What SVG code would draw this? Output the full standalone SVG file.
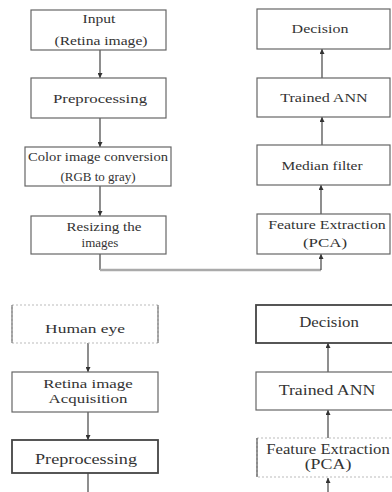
<svg xmlns="http://www.w3.org/2000/svg" width="392" height="492" viewBox="0 0 392 492">
<defs>
<style>
.box{fill:#fff;stroke:#666;stroke-width:1.2}
.dark{fill:#fff;stroke:#444;stroke-width:1.8}
.faint{fill:#fff;stroke:#bbb;stroke-width:1;stroke-dasharray:2 2}
text{font-family:"Liberation Serif","Times New Roman",Times,serif;fill:#333;text-anchor:middle}
.t{font-size:13px}
.tb{font-size:14px}
.c{fill:none;stroke:#444;stroke-width:1.2}
.h{fill:none;stroke:#aaa;stroke-width:2.5}
</style>
<marker id="ah" viewBox="0 0 6 6" refX="6" refY="3" markerWidth="5" markerHeight="5" orient="auto" markerUnits="userSpaceOnUse">
<path d="M0,0 L6,3 L0,6 Z" fill="#333"/>
</marker>
</defs>
<rect width="392" height="492" fill="#fff"/>

<g id="connectors">
<path class="c" d="M100,50 V78" marker-end="url(#ah)"/>
<path class="c" d="M100,118 V147" marker-end="url(#ah)"/>
<path class="c" d="M100,186 V216" marker-end="url(#ah)"/>
<path class="c" d="M100,254 V270"/>
<path class="h" d="M100,270 H321"/>
<path class="c" d="M321,270 V254" marker-end="url(#ah)"/>
<path class="c" d="M321,214 V185" marker-end="url(#ah)"/>
<path class="c" d="M322,145 V117" marker-end="url(#ah)"/>
<path class="c" d="M322,78 V49" marker-end="url(#ah)"/>
<path class="c" d="M88,343 V372" marker-end="url(#ah)"/>
<path class="c" d="M88,412 V440" marker-end="url(#ah)"/>
<path class="c" d="M88,473 V492"/>
<path class="c" d="M328,372 V343" marker-end="url(#ah)"/>
<path class="c" d="M328,438 V410" marker-end="url(#ah)"/>
<path class="c" d="M328,492 V478" marker-end="url(#ah)"/>
</g>

<g id="input">
<rect class="box" x="31" y="10" width="135" height="40"/>
<text class="t" transform="translate(99,23) scale(1.2,1)">Input</text>
<text class="t" transform="translate(101,45) scale(1.2,1)">(Retina image)</text>
</g>
<g id="preprocessing1">
<rect class="box" x="31" y="78" width="135" height="40"/>
<text class="t" transform="translate(100,103) scale(1.29,1)">Preprocessing</text>
</g>
<g id="color-conversion">
<rect class="box" x="25" y="147" width="146" height="39"/>
<text class="t" transform="translate(98,161) scale(1.12,1)">Color image conversion</text>
<text class="t" transform="translate(98,181) scale(1,1)">(RGB to gray)</text>
</g>
<g id="resizing">
<rect class="box" x="31" y="216" width="135" height="38"/>
<text class="t" transform="translate(104,231) scale(1.16,1)">Resizing the</text>
<text class="t" transform="translate(100,247)">images</text>
</g>

<g id="decision1">
<rect class="box" x="257" y="9" width="133" height="40"/>
<text class="t" transform="translate(320,33) scale(1.23,1)">Decision</text>
</g>
<g id="trained-ann1">
<rect class="box" x="257" y="78" width="133" height="39"/>
<text class="t" transform="translate(324,102) scale(1.24,1)">Trained  ANN</text>
</g>
<g id="median-filter">
<rect class="box" x="257" y="145" width="133" height="40"/>
<text class="t" transform="translate(322,170) scale(1.19,1)">Median filter</text>
</g>
<g id="feature-extraction1">
<rect class="box" x="257" y="214" width="133" height="40"/>
<text class="t" transform="translate(327,229) scale(1.22,1)">Feature Extraction</text>
<text class="t" transform="translate(325,247) scale(1.3,1)">(PCA)</text>
</g>

<g id="human-eye">
<rect class="faint" x="12" y="305" width="146" height="38"/>
<line x1="12" y1="305" x2="12" y2="343" stroke="#777" stroke-width="1.2"/>
<line x1="158" y1="305" x2="158" y2="343" stroke="#777" stroke-width="1.2"/>
<text class="t" transform="translate(85,333) scale(1.34,1)">Human eye</text>
</g>
<g id="retina-acquisition">
<rect class="box" x="12" y="372" width="146" height="40"/>
<text class="t" transform="translate(88,388) scale(1.3,1)">Retina image</text>
<text class="t" transform="translate(88,403) scale(1.3,1)">Acquisition</text>
</g>
<g id="preprocessing2">
<rect class="dark" x="12" y="440" width="146" height="33"/>
<text class="tb" transform="translate(86,464) scale(1.3,1)">Preprocessing</text>
</g>

<g id="decision2">
<rect class="dark" x="256" y="305" width="150" height="38"/>
<text class="tb" transform="translate(329,327) scale(1.2,1)">Decision</text>
</g>
<g id="trained-ann2">
<rect class="box" x="256" y="372" width="150" height="38"/>
<text class="tb" transform="translate(327,395) scale(1.27,1)">Trained  ANN</text>
</g>
<g id="feature-extraction2">
<rect class="faint" x="257" y="438" width="150" height="39"/>
<line x1="257" y1="438" x2="257" y2="477" stroke="#555" stroke-width="1.2"/>
<text class="tb" transform="translate(328,454) scale(1.19,1)">Feature Extraction</text>
<text class="tb" transform="translate(328,469) scale(1.28,1)">(PCA)</text>
</g>
</svg>
